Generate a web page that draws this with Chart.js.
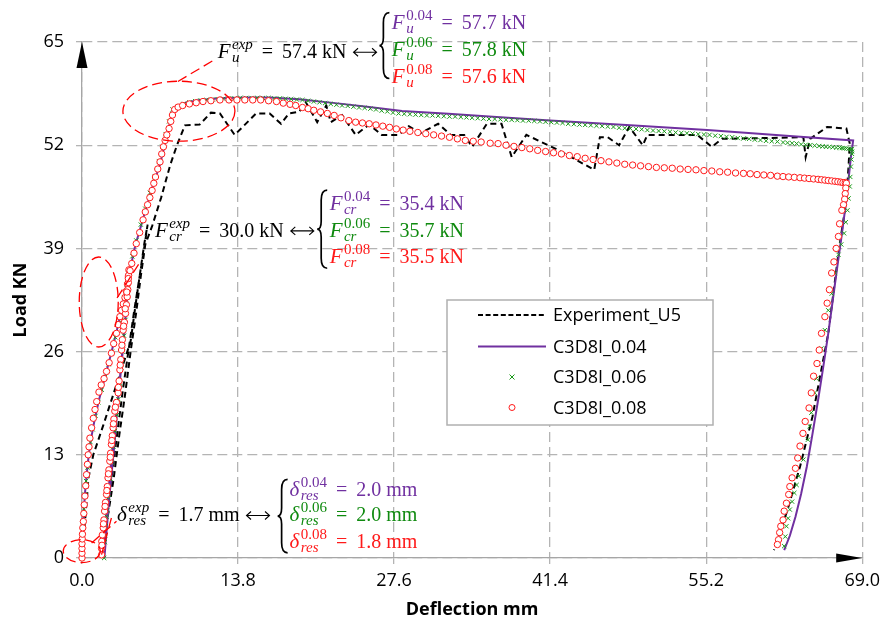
<!DOCTYPE html>
<html>
<head>
<meta charset="utf-8">
<script src="https://cdn.jsdelivr.net/npm/chart.js@4.4.1/dist/chart.umd.min.js"></script>
<style>
  html, body { margin: 0; padding: 0; background: #fff; }
  #c { display: block; }
</style>
</head>
<body>
<canvas id="c" width="886" height="621"></canvas>
<script>
// axis ticks
const xTicks = [0, 13.8, 27.6, 41.4, 55.2, 69.0];
const yTicks = [0, 13, 26, 39, 52, 65];

const seriesNames = ['Experiment_U5', 'C3D8I_0.04', 'C3D8I_0.06', 'C3D8I_0.08'];

// test curve [deflection mm, load kN]
const expU5 = [
  [0,0],[0.15,2.5],[0.3,5.2],[0.45,7.8],[0.57,10.1],[1.0,13.0],[1.9,16.8],[2.7,20.3],[3.5,23.8],[4.3,27.3],
  [4.7,31.5],[5.1,35.5],[5.5,39.5],[5.8,42.0],
  [5.55,39.5],[5.1,35.5],[4.6,31.0],[4.1,26.0],[3.6,21.0],[3.1,15.5],[2.6,10.0],[2.1,4.5],[1.7,0],
  [2.2,4.5],[2.8,10.0],[3.3,15.5],[3.8,20.5],[4.3,26.0],[4.8,31.0],[5.2,35.5],[5.6,39.5],[6.2,41.8],
  [7.0,45.4],[7.8,49.5],[8.4,52.0],[9.1,54.5],[10.4,54.6],[11.4,56.1],[12.2,56.0],[13.5,53.3],[15.4,56.0],
  [16.6,56.0],[17.6,54.7],[18.3,56.0],[19.2,56.2],[19.8,57.4],[20.8,54.9],[21.6,57.0],[22.0,54.9],[23.0,55.8],
  [24.2,53.3],[25.4,54.6],[26.5,53.3],[28.0,53.3],[28.9,54.4],[29.9,53.5],[31.5,54.7],[32.6,53.3],[33.8,53.3],
  [34.5,51.8],[35.8,54.7],[37.1,54.7],[38.0,50.5],[39.3,53.3],[42.1,51.4],[45.3,48.9],[45.8,53.0],[46.5,53.0],
  [47.5,52.0],[48.4,54.3],[49.6,52.0],[50.0,53.3],[54.4,53.3],[55.7,51.8],[56.6,52.8],[63.8,53.0],[64.0,50.5],
  [64.4,52.8],[65.9,54.3],[67.6,54.1],[67.9,52.2],[67.8,49.5],[67.6,45.1],[66.9,38.4],[66.0,28.3],[64.6,17.8],
  [63.5,11.5],[62.4,6.1],[61.2,1.0]
];

// C3D8I, dilation 0.04
const c3d8i004 = [
  [0,0],[0.05,3],[0.15,5.8],[0.3,8.8],[0.5,11.8],[0.75,14.6],[1.1,17.3],[1.5,19.9],[2.0,22.6],[2.6,25.9],
  [3.1,28.8],[3.6,31.9],[3.95,34.4],[4.1,35.8],
  [4.0,33.2],[3.85,30.2],[3.6,26.0],[3.3,21.5],[3.05,18.5],[2.7,13.8],[2.35,8.6],[2.15,5.4],[2.03,2.5],[1.98,0],
  [2.4,7.4],[2.9,14.8],[3.25,21.0],[3.6,26.6],[3.95,32.0],[4.2,36.0],[4.7,39.3],[5.5,43.2],[6.2,46.6],
  [6.9,49.6],[7.4,52.5],[8.05,56.5],[9.2,57.4],[10.4,57.7],[12.2,57.9],[14.5,58.0],[16.6,58.0],[19.2,57.8],
  [22.4,57.3],[25.4,56.8],[28.3,56.3],[32.4,55.95],[36.0,55.6],[41.4,55.1],[48.5,54.5],[55.3,53.9],[63.2,53.1],
  [68.2,52.6],
  [68.0,50.5],[67.8,47.8],[67.6,45.1],[67.2,40.8],[66.8,36.7],[66.4,32.5],[66.0,28.3],[65.55,24.0],[65.1,19.9],
  [64.6,15.6],[64.1,11.5],[63.6,8.1],[63.1,5.2],[62.6,2.8],[62.1,1.0]
];

// C3D8I, dilation 0.06
const c3d8i006 = [
  [0,0],[0.02,1.5],[0.05,3.0],[0.1,4.5],[0.18,6.2],[0.26,8.0],[0.36,9.7],[0.48,11.4],[0.6,13.0],[0.75,14.6],
  [0.95,16.2],[1.2,17.9],[1.45,19.6],[1.75,21.2],[2.05,22.8],[2.35,24.4],[2.65,26.0],[2.95,27.8],[3.25,29.6],
  [3.5,31.2],[3.75,32.8],[3.95,34.4],[4.1,35.8],
  [4.05,34.0],[3.95,32.0],[3.85,30.0],[3.72,28.0],[3.6,26.0],[3.48,24.0],[3.36,22.0],[3.22,20.0],[3.08,18.0],
  [2.92,16.0],[2.78,14.0],[2.64,12.0],[2.5,10.0],[2.36,8.0],[2.22,6.0],[2.1,4.0],[2.02,2.0],[1.96,0],
  [2.05,2.8],[2.18,5.2],[2.32,7.6],[2.46,10.0],[2.6,12.4],[2.74,14.8],[2.9,17.2],[3.1,19.6],[3.3,22.0],
  [3.48,24.4],[3.63,26.8],[3.78,29.2],[3.92,31.6],[4.06,34.0],[4.2,36.0],[4.45,38.0],[4.8,40.0],[5.2,42.0],
  [5.6,44.0],[6.0,46.0],[6.4,48.0],[6.8,50.0],[7.1,51.8],[7.4,53.4],[7.7,55.0],[8.0,56.5],
  [8.5,56.9],[9.0,57.2],[9.5,57.4],[10.0,57.55],[10.5,57.65],[11.0,57.7],[11.5,57.75],[12.0,57.8],[12.5,57.85],
  [13.0,57.9],[13.5,57.9],[14.0,57.95],[14.5,57.95],[15.0,57.95],[15.5,57.95],[16.0,57.95],[16.5,57.95],
  [17.0,57.9],[17.5,57.9],[18.0,57.85],[18.5,57.8],[19.0,57.75],[19.5,57.7],[20.0,57.6],[20.5,57.5],[21.0,57.4],
  [21.5,57.3],[22.0,57.2],[22.5,57.1],[23.0,57.0],[23.5,56.95],[24.0,56.85],[24.5,56.75],[25.0,56.7],[25.5,56.6],
  [26.0,56.5],[26.5,56.35],[27.0,56.25],[27.5,56.1],[28.0,56.0],[28.5,55.95],[29.0,55.9],[29.5,55.85],[30.0,55.8],
  [30.5,55.75],[31.0,55.75],[31.5,55.7],[32.0,55.65],[32.5,55.6],[33.0,55.6],[33.5,55.55],[34.0,55.5],[34.5,55.45],
  [35.0,55.4],[35.5,55.35],[36.0,55.3],[36.5,55.3],[37.0,55.25],[37.5,55.2],[38.0,55.2],[38.5,55.15],[39.0,55.1],
  [39.5,55.1],[40.0,55.05],[40.5,55.0],[41.0,54.95],[41.5,54.9],[42.0,54.85],[42.5,54.8],[43.0,54.7],[43.5,54.65],
  [44.0,54.6],[44.5,54.55],[45.0,54.5],[45.5,54.45],[46.0,54.4],[46.5,54.35],[47.0,54.3],[47.5,54.2],[48.0,54.15],
  [48.5,54.1],[49.0,54.05],[49.5,54.0],[50.0,53.9],[50.5,53.85],[51.0,53.8],[51.5,53.75],[52.0,53.7],[52.5,53.6],
  [53.0,53.55],[53.5,53.5],[54.0,53.45],[54.5,53.4],[55.0,53.35],[55.5,53.3],[56.0,53.2],[56.5,53.15],[57.0,53.05],
  [57.5,53.0],[58.0,52.9],[58.5,52.85],[59.0,52.8],[59.5,52.7],[60.0,52.65],[60.5,52.55],[61.0,52.5],[61.5,52.45],
  [62.0,52.35],[62.4,52.3],[62.8,52.25],[63.2,52.2],[63.6,52.1],[64.0,52.05],[64.4,52.0],[64.8,51.95],[65.2,51.9],
  [65.5,51.85],[65.8,51.8],[66.1,51.8],[66.4,51.75],[66.7,51.7],[67.0,51.7],[67.2,51.65],[67.4,51.6],[67.6,51.6],
  [67.8,51.55],[68.0,51.5],[68.1,51.5],
  [68.1,51.2],[68.1,50.9],[68.05,50.2],[68.0,49.3],[67.95,48.0],[67.9,46.8],[67.8,45.3],[67.7,43.8],[67.55,42.3],
  [67.4,40.9],[67.15,39.5],[66.9,38.2],[66.6,35.9],[66.3,33.3],[66.0,31.2],[65.7,28.7],[65.4,26.4],[65.1,24.5],
  [64.95,22.6],[64.8,20.8],[64.5,18.3],[64.35,16.6],[64.2,14.9],[63.8,12.4],[63.4,10.3],[63.2,9.2],[63.0,8.2],
  [62.8,7.1],[62.6,6.1],[62.45,5.0],[62.3,4.0],[62.2,2.7],[62.1,1.5]
];

// C3D8I, dilation 0.08
const c3d8i008 = [
  [0,0],[0,0.6],[0,1.2],[0,1.8],[0.02,2.4],[0.04,3.0],[0.07,3.8],[0.12,4.6],[0.16,5.6],[0.2,6.7],[0.26,7.8],
  [0.33,9.1],[0.4,10.5],[0.48,11.8],[0.55,13.0],[0.62,14.0],[0.7,15.1],[0.85,16.4],[1.0,17.6],[1.15,18.7],
  [1.3,19.7],[1.5,20.9],[1.7,21.8],[1.95,22.6],[2.17,23.5],[2.4,24.6],[2.6,25.8],[2.8,27.0],[3.05,28.3],
  [3.2,29.4],[3.35,30.4],[3.5,31.2],[3.65,32.0],[3.8,32.8],[3.92,33.6],[4.02,34.5],[4.1,35.4],[4.15,36.3],
  [4.12,35.6],[4.1,34.7],[4.05,33.8],[4.0,32.9],[3.93,31.9],[3.85,30.8],[3.75,29.7],[3.64,28.7],[3.57,27.5],
  [3.5,26.2],[3.43,25.0],[3.35,23.7],[3.28,22.3],[3.2,20.8],[3.05,19.6],[2.9,18.5],[2.82,17.5],[2.75,16.4],
  [2.68,15.4],[2.6,14.3],[2.53,13.2],[2.46,12.2],[2.38,11.1],[2.3,10.1],[2.24,9.0],[2.17,8.0],[2.08,7.0],
  [2.0,5.9],[1.94,4.8],[1.88,3.8],[1.8,2.9],[1.75,2.1],[1.73,1.2],[1.73,0.4],
  [1.76,1.6],[1.9,4.3],[2.04,6.5],[2.2,8.5],[2.34,10.6],[2.5,12.7],[2.64,14.8],[2.78,16.9],[2.95,19.0],
  [3.22,21.5],[3.38,24.3],[3.53,26.8],[3.68,29.2],[3.82,31.4],[3.96,33.5],[4.1,35.2],[4.25,36.2],[4.4,37.1],
  [4.6,38.4],[4.8,39.6],[5.1,41.0],[5.4,42.6],[5.6,43.6],[5.8,44.5],[6.0,45.4],[6.2,46.3],[6.35,47.2],[6.5,48.0],
  [6.7,49.0],[6.9,49.9],[7.05,50.9],[7.2,51.8],[7.35,52.6],[7.5,53.3],[7.7,54.1],[7.85,55.0],[8.0,55.8],
  [8.2,56.5],[8.5,56.8],[8.9,57.0],[9.5,57.2],[10.1,57.35],[10.7,57.5],[11.4,57.6],[12.2,57.7],[13.0,57.7],
  [13.7,57.7],[14.4,57.7],[15.1,57.7],[15.8,57.7],[16.5,57.6],[17.2,57.5],[17.8,57.3],[18.4,57.15],[18.9,57.0],
  [19.5,56.75],[20.0,56.6],[20.5,56.4],[21.1,56.2],[21.7,56.0],[22.3,55.75],[22.9,55.45],[23.6,55.1],[24.2,54.9],
  [24.8,54.8],[25.4,54.7],[26.0,54.55],[26.6,54.4],[27.2,54.25],[27.8,54.05],[28.4,53.9],[29.0,53.75],[29.7,53.6],
  [30.4,53.45],[31.1,53.3],[31.8,53.15],[32.5,53.0],[33.2,52.8],[33.9,52.6],[34.6,52.5],[35.3,52.4],[36.1,52.25],
  [36.8,52.2],[37.5,52.0],[38.2,51.85],[38.9,51.7],[39.6,51.55],[40.3,51.35],[41.0,51.2],[41.7,51.05],[42.4,50.9],
  [43.1,50.7],[43.8,50.55],[44.5,50.35],[45.2,50.2],[45.9,50.05],[46.6,49.9],[47.3,49.75],[48.0,49.6],[48.7,49.5],
  [49.4,49.4],[50.1,49.3],[50.8,49.2],[51.5,49.15],[52.2,49.1],[52.9,49.0],[53.6,48.95],[54.3,48.9],[55.0,48.8],
  [55.7,48.75],[56.4,48.65],[57.1,48.6],[57.8,48.5],[58.5,48.45],[59.1,48.4],[59.7,48.3],[60.3,48.25],[60.9,48.2],
  [61.5,48.1],[62.0,48.05],[62.5,48.0],[63.0,47.95],[63.5,47.9],[63.9,47.85],[64.3,47.8],[64.7,47.75],[65.1,47.7],
  [65.4,47.65],[65.7,47.6],[66.0,47.55],[66.3,47.5],[66.6,47.45],[66.85,47.4],[67.1,47.35],[67.3,47.3],[67.5,47.3],
  [67.6,47.2],
  [67.55,46.6],[67.5,45.9],[67.45,45.2],[67.35,44.5],[67.2,43.8],[67.0,42.1],[66.9,40.5],[66.7,39.0],[66.5,37.3],
  [66.3,35.9],[66.1,33.8],[65.9,32.1],[65.7,30.4],[65.4,28.3],[65.2,26.2],[65.0,24.5],[64.7,22.9],[64.5,20.8],
  [64.3,18.9],[63.96,17.2],[63.76,15.7],[63.5,14.1],[63.3,12.6],[63.1,11.3],[62.8,10.1],[62.6,9.0],[62.5,8.0],
  [62.3,6.9],[62.1,5.9],[62.0,4.8],[61.8,4.0],[61.7,3.2],[61.6,2.3],[61.5,1.7]
];

const colExp = '#000000', col004 = '#7030a0', col006 = '#1a9a1a', col008 = '#ff1a1a';
const txt006 = '#0f8a0f';

function xy(arr) { return arr.map(p => ({ x: p[0], y: p[1] })); }

const SERIF = '"Liberation Serif", "DejaVu Serif", serif';
const SANS = '"Open Sans", "Noto Sans", sans-serif';

// annotation texts
const annos = [
  { at: [12.0, 62.95], base: 'F', sub: 'u', sup: 'exp', rest: '57.4 kN', braceX: 26.3, braceY: [68.7, 60.4], rx: 27.4,
    lines: [['0.04', '57.7 kN', col004, 66.6], ['0.06', '57.8 kN', txt006, 63.2], ['0.08', '57.6 kN', col008, 59.85]] },
  { at: [6.45, 40.45], base: 'F', sub: 'cr', sup: 'exp', rest: '30.0 kN', braceX: 20.8, braceY: [46.35, 36.5], rx: 21.9,
    lines: [['0.04', '35.4 kN', col004, 43.8], ['0.06', '35.7 kN', txt006, 40.45], ['0.08', '35.5 kN', col008, 37.15]] },
  { at: [3.1, 4.6], base: 'δ', sub: 'res', sup: 'exp', rest: '1.7 mm', braceX: 17.3, braceY: [9.9, 0.65], rx: 18.35,
    lines: [['0.04', '2.0 mm', col004, 7.85], ['0.06', '2.0 mm', txt006, 4.6], ['0.08', '1.8 mm', col008, 1.3]] }
];

function mathPiece(ctx, x, y, base, sub, sup, color) {
  ctx.fillStyle = color;
  ctx.textBaseline = 'alphabetic';
  ctx.textAlign = 'left';
  ctx.font = 'italic 21px ' + SERIF;
  ctx.fillText(base, x, y);
  x += ctx.measureText(base).width + 1.5;
  ctx.font = (sup === 'exp' ? 'italic ' : '') + '15px ' + SERIF;
  ctx.fillText(sup, x, y - 9);
  let w = ctx.measureText(sup).width;
  ctx.font = 'italic 15px ' + SERIF;
  ctx.fillText(sub, x, y + 4);
  w = Math.max(w, ctx.measureText(sub).width);
  return x + w;
}

function eqText(ctx, x, y, val, color, arrow) {
  ctx.fillStyle = color;
  ctx.strokeStyle = color;
  ctx.font = '20px ' + SERIF;
  x += 9;
  ctx.fillText('=', x, y);
  x += ctx.measureText('=').width + 9;
  ctx.fillText(val, x, y);
  x += ctx.measureText(val).width;
  if (arrow) {
    x += 7;
    const ay = y - 6, L = 23;
    ctx.lineWidth = 1.1;
    ctx.beginPath();
    ctx.moveTo(x, ay); ctx.lineTo(x + L, ay);
    ctx.moveTo(x + 4.5, ay - 4); ctx.lineTo(x, ay); ctx.lineTo(x + 4.5, ay + 4);
    ctx.moveTo(x + L - 4.5, ay - 4); ctx.lineTo(x + L, ay); ctx.lineTo(x + L - 4.5, ay + 4);
    ctx.stroke();
  }
}

function brace(ctx, x, y1, y2) {
  const w = 10, mid = (y1 + y2) / 2, xm = x + 4;
  ctx.save();
  ctx.strokeStyle = '#000';
  ctx.lineWidth = 1.7;
  ctx.beginPath();
  ctx.moveTo(x + w, y1);
  ctx.quadraticCurveTo(xm, y1, xm, y1 + 10);
  ctx.lineTo(xm, mid - 8);
  ctx.quadraticCurveTo(xm, mid, x, mid);
  ctx.quadraticCurveTo(xm, mid, xm, mid + 8);
  ctx.lineTo(xm, y2 - 10);
  ctx.quadraticCurveTo(xm, y2, x + w, y2);
  ctx.stroke();
  ctx.restore();
}

const overlay = {
  id: 'overlay',
  afterDatasetsDraw(chart) {
    const ctx = chart.ctx, sx = chart.scales.x, sy = chart.scales.y;
    const X = v => sx.getPixelForValue(v), Y = v => sy.getPixelForValue(v);

    // red dashed marks
    ctx.save();
    ctx.strokeStyle = '#ff0000';
    ctx.lineWidth = 1.3;
    ctx.setLineDash([10, 5]);
    [[8.57, 56.28, 56, 30], [1.48, 32.25, 19.5, 45], [-0.02, 0.87, 18.5, 11.5]].forEach(e => {
      ctx.beginPath();
      ctx.ellipse(X(e[0]), Y(e[1]), e[2], e[3], 0, 0, Math.PI * 2);
      ctx.stroke();
    });
    [[8.48, 60.03, 11.88, 62.9], [3.1, 32.75, 5.13, 37.28], [0.85, 1.9, 3.05, 4.62], [2.6, 5.04, 1.73, 0.43]].forEach(l => {
      ctx.beginPath();
      ctx.moveTo(X(l[0]), Y(l[1]));
      ctx.lineTo(X(l[2]), Y(l[3]));
      ctx.stroke();
    });
    ctx.restore();

    // annotations
    ctx.save();
    annos.forEach(a => {
      let x = mathPiece(ctx, X(a.at[0]), Y(a.at[1]), a.base, a.sub, a.sup, '#000');
      eqText(ctx, x, Y(a.at[1]), a.rest, '#000', true);
      brace(ctx, X(a.braceX), Y(a.braceY[0]), Y(a.braceY[1]));
      a.lines.forEach(l => {
        const xx = mathPiece(ctx, X(a.rx), Y(l[3]), a.base, a.sub, l[0], l[2]);
        eqText(ctx, xx, Y(l[3]), l[1], l[2], false);
      });
    });
    ctx.restore();

    // legend
    const lx = 447, ly = 300, lw = 266, lh = 125;
    ctx.save();
    ctx.fillStyle = '#fff';
    ctx.fillRect(lx, ly, lw, lh);
    ctx.strokeStyle = '#b0b0b0';
    ctx.lineWidth = 1.5;
    ctx.strokeRect(lx, ly, lw, lh);
    const rows = [315, 346.5, 377, 407.5];
    ctx.font = '18px ' + SANS;
    ctx.fillStyle = '#000';
    ctx.textBaseline = 'middle';
    ctx.textAlign = 'left';
    seriesNames.forEach((n, i) => ctx.fillText(n, 553, rows[i] + 1));
    ctx.lineWidth = 2;
    ctx.strokeStyle = colExp;
    ctx.setLineDash([5, 2.6]);
    ctx.beginPath(); ctx.moveTo(478, rows[0]); ctx.lineTo(546, rows[0]); ctx.stroke();
    ctx.setLineDash([]);
    ctx.strokeStyle = col004;
    ctx.beginPath(); ctx.moveTo(478, rows[1]); ctx.lineTo(546, rows[1]); ctx.stroke();
    ctx.strokeStyle = col006;
    ctx.lineWidth = 1;
    ctx.beginPath();
    ctx.moveTo(509.5, rows[2] - 2.5); ctx.lineTo(514.5, rows[2] + 2.5);
    ctx.moveTo(514.5, rows[2] - 2.5); ctx.lineTo(509.5, rows[2] + 2.5);
    ctx.stroke();
    ctx.strokeStyle = col008;
    ctx.beginPath(); ctx.arc(512, rows[3], 3, 0, Math.PI * 2); ctx.stroke();
    ctx.restore();
  },
  afterDraw(chart) {
    const ctx = chart.ctx, a = chart.chartArea;
    ctx.save();
    ctx.fillStyle = '#000';
    ctx.beginPath();
    ctx.moveTo(a.left, a.top);
    ctx.lineTo(a.left - 5.5, a.top + 26);
    ctx.lineTo(a.left + 5.5, a.top + 26);
    ctx.closePath();
    ctx.fill();
    ctx.beginPath();
    ctx.moveTo(a.right, a.bottom);
    ctx.lineTo(a.right - 26, a.bottom - 4.5);
    ctx.lineTo(a.right - 26, a.bottom + 4.5);
    ctx.closePath();
    ctx.fill();
    ctx.restore();
  }
};

const gridOpts = { color: '#b4b4b4', lineWidth: 1.3, tickLength: 6, tickColor: '#b4b4b4' };
const borderOpts = { display: true, color: '#a6a6a6', width: 1.3, dash: [10, 5] };
const tickFont = { family: SANS, size: 18 };
const titleFont = { family: SANS, size: 18, weight: 'bold' };

new Chart(document.getElementById('c').getContext('2d'), {
  type: 'scatter',
  data: {
    datasets: [
      { label: seriesNames[0], data: xy(expU5), showLine: true, borderColor: colExp, borderWidth: 2,
        borderDash: [6, 4], pointRadius: 0, pointHoverRadius: 0, clip: false, order: 4 },
      { label: seriesNames[1], data: xy(c3d8i004), showLine: true, borderColor: col004, borderWidth: 2,
        pointRadius: 0, pointHoverRadius: 0, clip: false, order: 3 },
      { label: seriesNames[2], data: xy(c3d8i006), showLine: false, pointStyle: 'crossRot', pointRadius: 3,
        borderColor: col006, borderWidth: 1, clip: false, order: 2 },
      { label: seriesNames[3], data: xy(c3d8i008), showLine: false, pointStyle: 'circle', pointRadius: 3.2,
        borderColor: col008, backgroundColor: '#ffffff', borderWidth: 1, clip: false, order: 1 }
    ]
  },
  options: {
    responsive: false,
    animation: false,
    events: [],
    layout: { padding: { top: 42, right: 20, left: 0, bottom: 0 } },
    plugins: { legend: { display: false }, tooltip: { enabled: false } },
    scales: {
      x: {
        type: 'linear', min: 0, max: 69,
        afterBuildTicks: s => { s.ticks = xTicks.map(v => ({ value: v })); },
        afterFit: s => { s.height = 63; },
        ticks: { callback: v => Number(v).toFixed(1), font: tickFont, color: '#000', padding: 6, maxRotation: 0, autoSkip: false },
        grid: gridOpts,
        border: borderOpts,
        title: { display: true, text: 'Deflection mm', font: titleFont, color: '#000', padding: { top: 0, bottom: 0 } }
      },
      y: {
        type: 'linear', min: 0, max: 65,
        afterBuildTicks: s => { s.ticks = yTicks.map(v => ({ value: v })); },
        afterFit: s => { s.width = 82; },
        ticks: { font: tickFont, color: '#000', padding: 12, autoSkip: false },
        grid: gridOpts,
        border: borderOpts,
        title: { display: true, text: 'Load KN', font: titleFont, color: '#000', padding: { top: 10, bottom: 0 } }
      }
    }
  },
  plugins: [overlay]
});
</script>
</body>
</html>
